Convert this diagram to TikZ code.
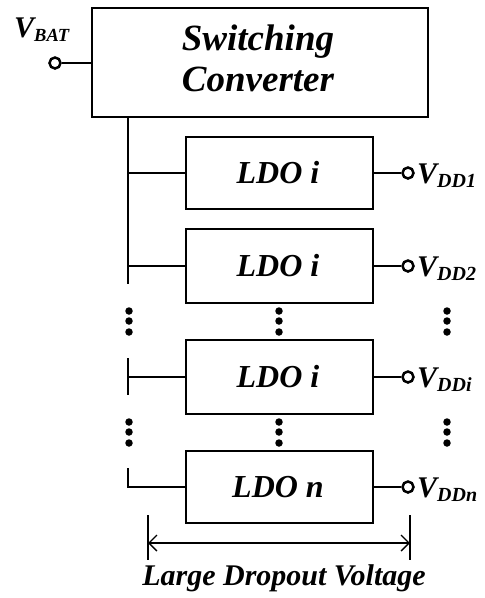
\documentclass[tikz,border=0pt]{standalone}
\usepackage{fontspec}
\setmainfont{Liberation Serif}
\usetikzlibrary{arrows.meta}
\tikzset{
  blk/.style={draw, line width=2.9pt, inner sep=0pt},
  wire/.style={line width=2.9pt},
  term/.style={circle, draw, line width=2.5pt, minimum size=11pt, inner sep=0pt, fill=white},
  dotm/.style={circle, fill=black, minimum size=7.5pt, inner sep=0pt},
  lbl/.style={font=\bfseries\itshape, inner sep=0pt},
  dim/.style={line width=1.4pt},
}
\newcommand{\vsub}[4]{{\fontsize{#1}{#1}\selectfont V}\raisebox{-4.5pt}{\fontsize{#2}{#2}\selectfont #3}}
\begin{document}
\begin{tikzpicture}[x=1pt,y=-1pt]
\useasboundingbox (0,0) rectangle (485,598);
% switching converter
\draw[blk] (92,8) rectangle (428,117);
\coordinate (sctl) at (92,63);
\node[lbl, font=\bfseries\itshape\fontsize{37}{41}\selectfont, align=center] (sc) at (258,58) {Switching\\Converter};
\node[term] (vbat) at (55,63) {};
\node[lbl, anchor=base west] (vbatl) at (14,37) {\vsub{30}{18.5}{BAT}{}};
\draw[wire] (vbat) -- (sctl);
% LDO boxes
\foreach \n/\t/\b/\txt/\sub in {l1/137/209/LDO i/DD1, l2/229/303/LDO i/DD2, l3/340/414/LDO i/DDi, l4/451/523/LDO n/DDn}{
  \draw[blk] (186,\t) rectangle (373,\b);
  \coordinate (\n w) at (186,{(\t+\b)/2});
  \coordinate (\n e) at (373,{(\t+\b)/2});
  \node[lbl, font=\bfseries\itshape\fontsize{32}{32}\selectfont] (\n) at (278,{(\t+\b)/2}) {\txt};
  \node[term] (\n o) at (408,{(\t+\b)/2}) {};
  \draw[wire] (\n e) -- (\n o);
  \node[lbl, anchor=base west] (\n v) at (417,{(\t+\b)/2+10}) {\vsub{30}{20}{\sub}{}};
}
% bus
\coordinate (b0) at (128,117);
\coordinate (b1) at (128,284);
\coordinate (b1a) at (128,173);
\coordinate (b1b) at (128,266);
\draw[wire] (b0) -- (b1);
\draw[wire] (b1a) -- (l1w);
\draw[wire] (b1b) -- (l2w);
\coordinate (b3t) at (128,358);
\coordinate (b3b) at (128,395);
\coordinate (b3m) at (128,377);
\draw[wire] (b3t) -- (b3b);
\draw[wire] (b3m) -- (l3w);
\coordinate (b4t) at (128,468);
\coordinate (b4m) at (128,487);
\draw[wire] (b4t) -- (b4m) -- (l4w);
% dots
\foreach \x in {129,279,447}{
  \foreach \y in {311,321,332,422,432,443}{
    \node[dotm] at (\x,\y) {};
  }
}
% dimension
\coordinate (dlt) at (148,515);
\coordinate (dlb) at (148,560);
\coordinate (drt) at (410,515);
\coordinate (drb) at (410,560);
\coordinate (dl) at (148,543);
\coordinate (dr) at (410,543);
\draw[dim] (dlt) -- (dlb);
\draw[dim] (drt) -- (drb);
\draw[dim, {Straight Barb[length=8pt,width=16pt,line width=1.4pt]}-{Straight Barb[length=8pt,width=16pt,line width=1.4pt]}] (dl) -- (dr);
\node[lbl, font=\bfseries\itshape\fontsize{30}{30}\selectfont] (ldv) at (284,578) {Large Dropout Voltage};
\end{tikzpicture}
\end{document}
